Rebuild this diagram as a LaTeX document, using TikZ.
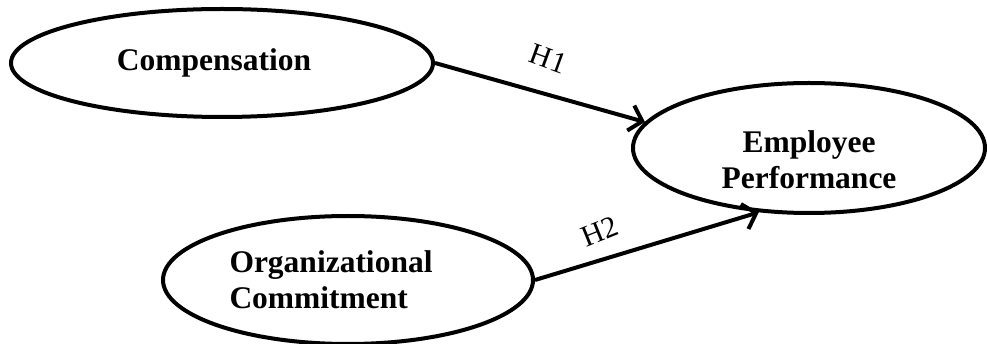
\documentclass[tikz,border=0pt]{standalone}
\usepackage{fontspec}
\setmainfont{Liberation Serif}
\usetikzlibrary{shapes.geometric,arrows.meta}
\begin{document}
\begin{tikzpicture}[x=1pt,y=-1pt,
  var/.style={draw,ellipse,line width=4pt,inner sep=0pt},
  txt/.style={align=center,font=\fontsize{31.5}{36}\selectfont\bfseries},
  link/.style={line width=4pt,-{Straight Barb[length=12pt,width=26pt]}},
  hyp/.style={font=\fontsize{30}{36}\selectfont}]
\useasboundingbox (0,0) rectangle (987,344);
\node[var,minimum width=422pt,minimum height=108pt] (comp) at (222,63) {};
\node[var,minimum width=352pt,minimum height=130pt] (perf) at (809,148) {};
\node[var,minimum width=370pt,minimum height=128pt] (orgc) at (348,280) {};
\node[txt] (compt) at ([xshift=-8pt]comp.center) {Compensation};
\node[txt] (perft) at ([yshift=-12pt]perf.center) {Employee\\Performance};
\node[txt,align=left] (orgct) at ([xshift=-17pt]orgc.center) {Organizational\\Commitment};
\draw[link] (comp.east) -- (perf.171) node[hyp,pos=.54,yshift=36pt,rotate=-20] (h1) {H1};
\draw[link] (orgc.east) -- (perf.232) node[hyp,pos=.29,yshift=29pt,rotate=22] (h2) {H2};
\end{tikzpicture}
\end{document}
